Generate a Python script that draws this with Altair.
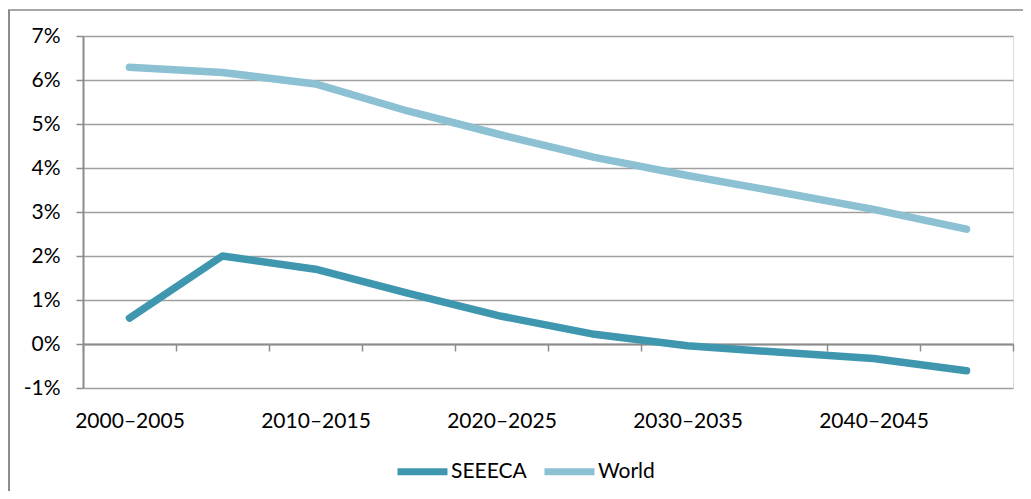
import altair as alt
import pandas as pd

periods = ["2000–2005", "2005–2010", "2010–2015", "2015–2020", "2020–2025",
           "2025–2030", "2030–2035", "2035–2040", "2040–2045", "2045–2050"]
seeeca = [0.59, 2.0, 1.70, 1.15, 0.63, 0.22, -0.04, -0.19, -0.33, -0.61]
world = [6.29, 6.17, 5.91, 5.29, 4.75, 4.24, 3.83, 3.45, 3.06, 2.61]
series_names = ["SEEECA", "World"]
series_colors = ["#3F97AF", "#8CC0D3"]
y_ticks = [-1, 0, 1, 2, 3, 4, 5, 6, 7]

rows = []
for p, v in zip(periods, seeeca):
    rows.append({"period": p, "series": "SEEECA", "value": v})
for p, v in zip(periods, world):
    rows.append({"period": p, "series": "World", "value": v})
df = pd.DataFrame(rows)

FONT = "Lato"
W, H = 930, 352

lines = alt.Chart(df).mark_line(strokeWidth=7.5, strokeCap="round", strokeJoin="round").encode(
    x=alt.X("period:N", sort=periods, bandPosition=0.5,
            scale=alt.Scale(type="band", paddingInner=0, paddingOuter=0),
            axis=alt.Axis(title=None, orient="bottom", offset=-44, tickBand="extent",
                          grid=False, domain=True, domainColor="#8c8c8c", domainWidth=2,
                          ticks=True, tickSize=7, tickColor="#8c8c8c", tickWidth=1.5,
                          labelAngle=0, labelPadding=59, labelFont=FONT, labelFontSize=21,
                          labelColor="#000000", labelBaseline="top",
                          labelExpr="substring(datum.label, 3, 4) == '0' ? datum.label : ''")),
    y=alt.Y("value:Q", scale=alt.Scale(domain=[-1, 7], nice=False, zero=False),
            axis=alt.Axis(title=None, values=y_ticks, labelExpr="datum.value + '%'",
                          grid=True, gridColor="#a0a0a0", gridWidth=1.5,
                          domain=True, domainColor="#8c8c8c", domainWidth=2,
                          ticks=True, tickSize=7, tickColor="#8c8c8c", tickWidth=1.5,
                          labelPadding=16, labelFont=FONT, labelFontSize=21,
                          labelColor="#000000")),
    color=alt.Color("series:N", sort=series_names,
                    scale=alt.Scale(domain=series_names, range=series_colors),
                    legend=alt.Legend(title=None, orient="none", legendX=311, legendY=407,
                                      direction="horizontal", symbolType="stroke",
                                      symbolSize=2500, symbolStrokeWidth=7,
                                      labelFont=FONT, labelFontSize=21, labelColor="#000000",
                                      labelOffset=0, columnPadding=3)),
)

frame_df = pd.DataFrame({"a": [0]})
top_border = alt.Chart(frame_df).mark_rule(color="#a6a6a6", strokeWidth=2).encode(
    x=alt.value(-75), x2=alt.value(W + 20), y=alt.value(-26))
left_border = alt.Chart(frame_df).mark_rule(color="#8c8c8c", strokeWidth=2).encode(
    x=alt.value(-74), y=alt.value(-26), y2=alt.value(H + 110))

chart = alt.layer(lines, top_border, left_border).properties(
    width=W, height=H,
    autosize=alt.AutoSizeParams(type="none"),
    padding={"left": 75, "top": 28, "right": 10, "bottom": 103},
).configure_view(stroke=None).configure(background="white")

chart.save("out.html", embed_options={"renderer": "svg", "actions": False})
